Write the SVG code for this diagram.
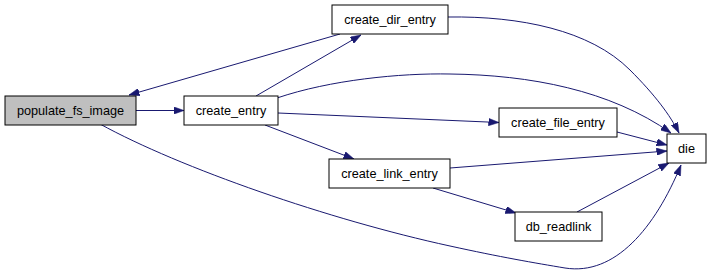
<svg xmlns="http://www.w3.org/2000/svg" width="712" height="272" viewBox="0 0 712 272">
  <style>
    .node rect { fill: #ffffff; stroke: #000000; stroke-width: 1; }
    .node.root rect { fill: #bfbfbf; }
    .node text { font-family: "Liberation Sans", Arial, Helvetica, sans-serif; font-size: 12.7px; fill: #000000; text-anchor: middle; }
    .edge { fill: none; stroke: #191970; stroke-width: 1; marker-end: url(#arrow); }
  </style>
  <defs>
    <marker id="arrow" markerUnits="userSpaceOnUse" viewBox="0 0 10.5 7.5" refX="10.5" refY="3.75" markerWidth="10.5" markerHeight="7.5" orient="auto">
      <path d="M0,0 L10.5,3.75 L0,7.5 z" fill="#191970" stroke="#191970" stroke-width="0.5"/>
    </marker>
  </defs>
  <rect width="712" height="272" fill="#ffffff"/>

  <!-- call edges -->
  <g id="edges">
    <path class="edge" d="M136,110.5 L184,110.5"/>
    <path class="edge" d="M256,96 L361,35"/>
    <path class="edge" d="M340,34 L129,95"/>
    <path class="edge" d="M277,98 C330,80 400,73 450,74 C530,75 610,90 671,133"/>
    <path class="edge" d="M448,17 C520,16 590,30 630,70 C655,95 670,115 679,133"/>
    <path class="edge" d="M278,113 L499,122.5"/>
    <path class="edge" d="M265,125 L354,159"/>
    <path class="edge" d="M617,132 L667,145"/>
    <path class="edge" d="M450,168 L667,151"/>
    <path class="edge" d="M433,188 L516,213"/>
    <path class="edge" d="M577,212 L669,163"/>
    <path class="edge" d="M100,124 C180,168 330,220 450,246 C500,257 535,263 565,268 C615,276 655,228 681,165"/>
  </g>

  <g id="populate_fs_image" class="node root">
    <rect x="5" y="96" width="131" height="29"/>
    <text x="70.5" y="115">populate_fs_image</text>
  </g>
  <g id="create_entry" class="node">
    <rect x="184" y="96" width="94" height="29"/>
    <text x="231" y="115">create_entry</text>
  </g>
  <g id="create_dir_entry" class="node">
    <rect x="332" y="5" width="116" height="29"/>
    <text x="390" y="24">create_dir_entry</text>
  </g>
  <g id="create_file_entry" class="node">
    <rect x="499" y="108" width="118" height="29"/>
    <text x="558" y="127">create_file_entry</text>
  </g>
  <g id="create_link_entry" class="node">
    <rect x="329" y="159" width="121" height="29"/>
    <text x="389.5" y="178">create_link_entry</text>
  </g>
  <g id="db_readlink" class="node">
    <rect x="515" y="212" width="87" height="29"/>
    <text x="558.5" y="231">db_readlink</text>
  </g>
  <g id="die" class="node">
    <rect x="667" y="134" width="39" height="29"/>
    <text x="686.5" y="153">die</text>
  </g>
</svg>
